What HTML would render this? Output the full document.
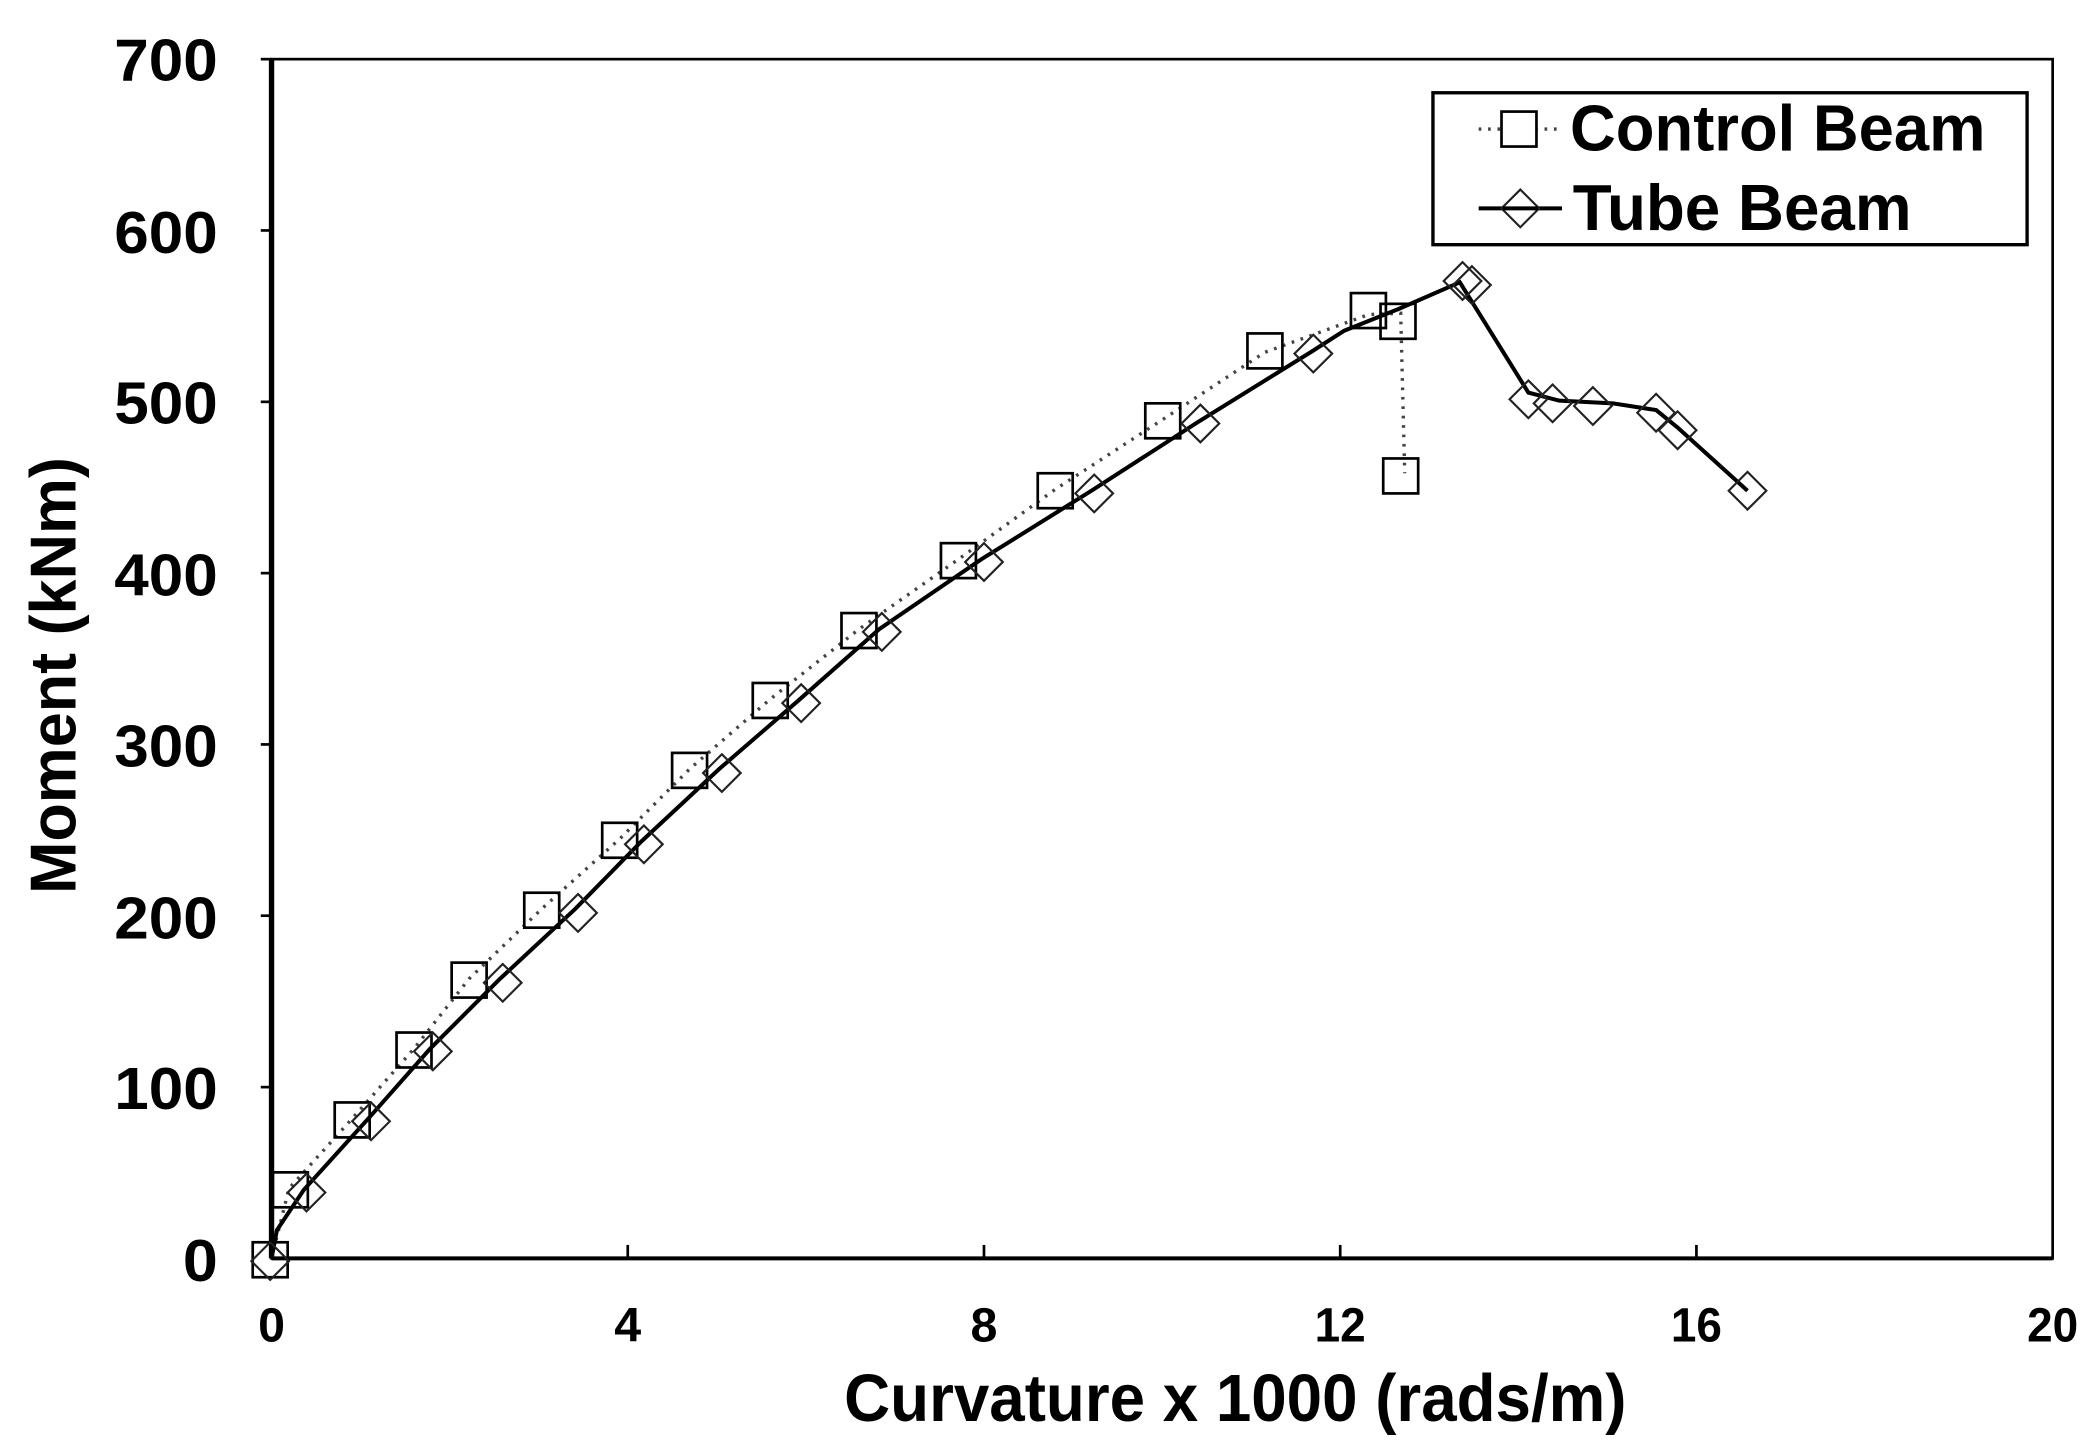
<!DOCTYPE html>
<html><head><style>html,body{margin:0;padding:0;background:#fff}svg{display:block}</style></head>
<body>
<svg width="2097" height="1452" viewBox="0 0 1560 1080" preserveAspectRatio="none" xmlns="http://www.w3.org/2000/svg" font-family="Liberation Sans, Arial, sans-serif" font-weight="bold">
<rect x="0" y="0" width="1560" height="1080" fill="#fff"/>
<rect x="202" y="44" width="1325" height="892" fill="none" stroke="#000" stroke-width="2"/>
<line x1="202" y1="44" x2="202" y2="936" stroke="#000" stroke-width="4"/>
<line x1="202" y1="936" x2="1527" y2="936" stroke="#000" stroke-width="3"/>
<g stroke="#000" stroke-width="2">
<line x1="194" y1="44" x2="202" y2="44"/><line x1="194" y1="171.4" x2="202" y2="171.4"/><line x1="194" y1="298.9" x2="202" y2="298.9"/><line x1="194" y1="426.3" x2="202" y2="426.3"/><line x1="194" y1="553.7" x2="202" y2="553.7"/><line x1="194" y1="681.1" x2="202" y2="681.1"/><line x1="194" y1="808.6" x2="202" y2="808.6"/>
<line x1="467" y1="936" x2="467" y2="926"/><line x1="732" y1="936" x2="732" y2="926"/><line x1="997" y1="936" x2="997" y2="926"/><line x1="1262" y1="936" x2="1262" y2="926"/>
</g>
<g font-size="44" text-anchor="end">
<text x="162" y="60" textLength="77" lengthAdjust="spacingAndGlyphs">700</text>
<text x="162" y="188" textLength="77" lengthAdjust="spacingAndGlyphs">600</text>
<text x="162" y="315" textLength="77" lengthAdjust="spacingAndGlyphs">500</text>
<text x="162" y="443" textLength="77" lengthAdjust="spacingAndGlyphs">400</text>
<text x="162" y="570" textLength="77" lengthAdjust="spacingAndGlyphs">300</text>
<text x="162" y="698" textLength="77" lengthAdjust="spacingAndGlyphs">200</text>
<text x="162" y="825" textLength="77" lengthAdjust="spacingAndGlyphs">100</text>
<text x="162" y="953" textLength="26" lengthAdjust="spacingAndGlyphs">0</text>
</g>
<g font-size="36" text-anchor="middle">
<text x="202" y="998">0</text><text x="467" y="998">4</text><text x="732" y="998">8</text><text x="997" y="998" textLength="38" lengthAdjust="spacingAndGlyphs">12</text><text x="1262" y="998" textLength="38" lengthAdjust="spacingAndGlyphs">16</text><text x="1527" y="998" textLength="38" lengthAdjust="spacingAndGlyphs">20</text>
</g>
<text x="628" y="1057" font-size="50" textLength="582" lengthAdjust="spacingAndGlyphs">Curvature x 1000 (rads/m)</text>
<text transform="translate(56,665) rotate(-90)" font-size="48" textLength="325" lengthAdjust="spacingAndGlyphs">Moment (kNm)</text>
<polyline fill="none" stroke="#444" stroke-width="2.5" stroke-dasharray="2,5" points="202,936 215,884 262,832 308,780 349,728 403,676 461,624 513,572 573,520 639,468 713,416 785,364 865,312 941,262 1018,234 1042,233 1045,352"/>
<polyline fill="none" stroke="#000" stroke-width="3" points="202,936 206,915 226,885 274,832 320,780 372,728 428,676 477,626 535,572 594,521 654,468 730,416 812,365 891,314 975,262 1000,246 1040,230 1086,210 1137,292 1160,298 1200,300 1232,305 1248,318 1300,365"/>
<g fill="none" stroke="#000" stroke-width="2">
<rect x="188" y="924" width="26" height="26"/><rect x="203" y="872" width="26" height="26"/><rect x="249" y="820" width="26" height="26"/><rect x="295" y="768" width="26" height="26"/><rect x="336" y="716" width="26" height="26"/><rect x="390" y="664" width="26" height="26"/><rect x="448" y="612" width="26" height="26"/><rect x="500" y="560" width="26" height="26"/><rect x="560" y="508" width="26" height="26"/><rect x="626" y="456" width="26" height="26"/><rect x="700" y="404" width="26" height="26"/><rect x="772" y="352" width="26" height="26"/><rect x="852" y="300" width="26" height="26"/><rect x="928" y="248" width="26" height="26"/><rect x="1005" y="218" width="26" height="26"/><rect x="1027" y="226" width="26" height="26"/><rect x="1029" y="341" width="26" height="26"/>
</g>
<g fill="none" stroke="#222" stroke-width="1.6">
<path d="M201,924 l14,14 l-14,14 l-14,-14z"/>
<path d="M228,873 l14,14 l-14,14 l-14,-14z"/>
<path d="M276,820 l14,14 l-14,14 l-14,-14z"/>
<path d="M322,768 l14,14 l-14,14 l-14,-14z"/>
<path d="M374,717 l14,14 l-14,14 l-14,-14z"/>
<path d="M430,665 l14,14 l-14,14 l-14,-14z"/>
<path d="M479,614 l14,14 l-14,14 l-14,-14z"/>
<path d="M537,561 l14,14 l-14,14 l-14,-14z"/>
<path d="M596,509 l14,14 l-14,14 l-14,-14z"/>
<path d="M656,456 l14,14 l-14,14 l-14,-14z"/>
<path d="M732,404 l14,14 l-14,14 l-14,-14z"/>
<path d="M814,353 l14,14 l-14,14 l-14,-14z"/>
<path d="M893,301 l14,14 l-14,14 l-14,-14z"/>
<path d="M977,249 l14,14 l-14,14 l-14,-14z"/>
<path d="M1088,195 l14,14 l-14,14 l-14,-14z"/>
<path d="M1095,198 l14,14 l-14,14 l-14,-14z"/>
<path d="M1137,283 l14,14 l-14,14 l-14,-14z"/>
<path d="M1155,286 l14,14 l-14,14 l-14,-14z"/>
<path d="M1185,288 l14,14 l-14,14 l-14,-14z"/>
<path d="M1232,293 l14,14 l-14,14 l-14,-14z"/>
<path d="M1248,306 l14,14 l-14,14 l-14,-14z"/>
<path d="M1300,351 l14,14 l-14,14 l-14,-14z"/>
</g>
<rect x="1066" y="69" width="442" height="113" fill="#fff" stroke="#000" stroke-width="2.5"/>
<line x1="1100" y1="96" x2="1162" y2="96" stroke="#444" stroke-width="2.5" stroke-dasharray="2,5"/>
<rect x="1117" y="83" width="26" height="26" fill="#fff" stroke="#000" stroke-width="2"/>
<line x1="1100" y1="155" x2="1162" y2="155" stroke="#000" stroke-width="3"/>
<path d="M1131,141 l14,14 l-14,14 l-14,-14z" fill="#fff" stroke="#222" stroke-width="1.6"/>
<path d="M1118,155 h26" stroke="#000" stroke-width="3"/>
<text x="1168" y="112" font-size="48" textLength="309" lengthAdjust="spacingAndGlyphs">Control Beam</text>
<text x="1170" y="171" font-size="48" textLength="252" lengthAdjust="spacingAndGlyphs">Tube Beam</text>
</svg>
</body></html>
